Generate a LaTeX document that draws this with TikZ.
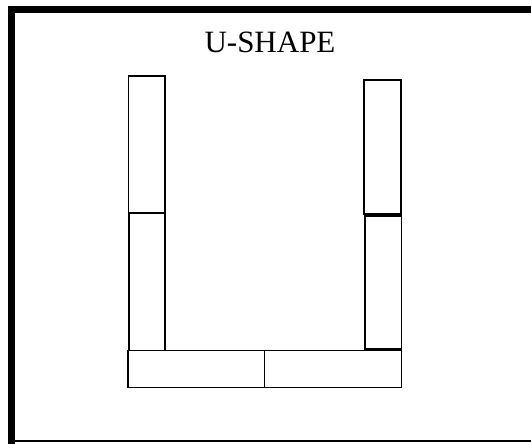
\documentclass[tikz,border=0pt]{standalone}
\usepackage{fontspec}
\setmainfont{Liberation Serif}
\begin{document}
\begin{tikzpicture}[x=1pt,y=-1pt,
  block/.style={draw=black,line width=1.3pt},
  frameline/.style={draw=black,line cap=rect}]
\useasboundingbox (0,0) rectangle (531,444);
% frame
\draw[frameline,line width=7pt] (11.5,441) -- (11.5,9.5) -- (535,9.5);
\draw[frameline,line width=2pt] (11.5,441) -- (535,441);
% title
\node[font=\fontsize{31}{34}\selectfont,inner sep=0pt] (title) at (270,42) {U-SHAPE};
% left column
\draw[block] (128.5,76) rectangle (165,213);
\draw[block] (129,213) rectangle (165,350.5);
% right column
\draw[block] (364,80) rectangle (401,214);
\draw[block] (365,216) rectangle (401.5,349);
% bottom row
\draw[block] (128,350.5) rectangle (264.7,387.5);
\draw[block] (264.7,350.5) rectangle (401.5,387.5);
\end{tikzpicture}
\end{document}
